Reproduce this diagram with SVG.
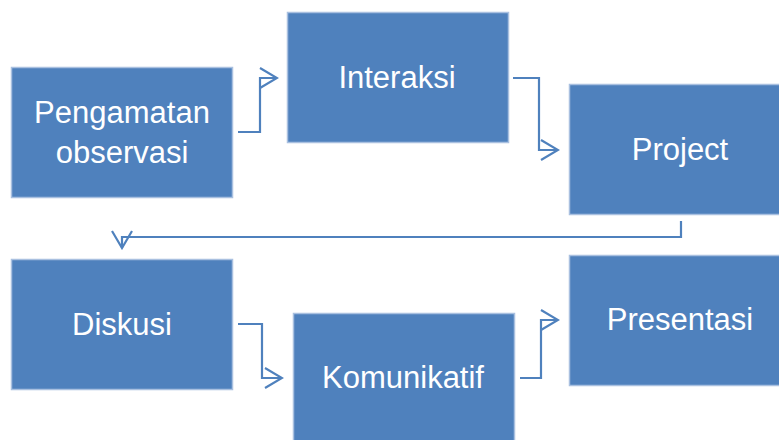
<svg xmlns="http://www.w3.org/2000/svg" width="779" height="440" viewBox="0 0 779 440">
<defs>
<style>
.box{fill:#4F81BD;stroke:#A9C0E0;stroke-width:1.5}
.lbl{fill:#FFFFFF;font-family:"Liberation Sans","Open Sans",sans-serif;font-size:31px;text-anchor:middle}
.con{fill:none;stroke:#4F81BD;stroke-width:2.2}
</style>
<marker id="ah" viewBox="0 0 20 22" refX="18" refY="11" markerWidth="20" markerHeight="22" markerUnits="userSpaceOnUse" orient="auto">
<path d="M1,1 L18,11 L1,21" fill="none" stroke="#4F81BD" stroke-width="2.2"/>
</marker>
</defs>
<rect width="779" height="440" fill="#FFFFFF"/>
<g id="connectors">
<polyline class="con" points="238,132 260,132 260,78 277,78" marker-end="url(#ah)"/>
<polyline class="con" points="513,78 539,78 539,150 558,150" marker-end="url(#ah)"/>
<polyline class="con" points="681,221 681,237 122,237 122,248" marker-end="url(#ah)"/>
<polyline class="con" points="238,324 262,324 262,378 282,378" marker-end="url(#ah)"/>
<polyline class="con" points="520,378 541,378 541,320 558,320" marker-end="url(#ah)"/>
</g>
<g id="node-pengamatan">
<rect class="box" x="11.5" y="67.5" width="221" height="130"/>
<text class="lbl" x="122" y="123">Pengamatan</text>
<text class="lbl" x="122" y="163">observasi</text>
</g>
<g id="node-interaksi">
<rect class="box" x="287.5" y="12.5" width="221" height="130"/>
<text class="lbl" x="397" y="88">Interaksi</text>
</g>
<g id="node-project">
<rect class="box" x="569.5" y="84.5" width="211" height="130"/>
<text class="lbl" x="680" y="160">Project</text>
</g>
<g id="node-diskusi">
<rect class="box" x="11.5" y="259.5" width="221" height="130"/>
<text class="lbl" x="122" y="335">Diskusi</text>
</g>
<g id="node-komunikatif">
<rect class="box" x="293.5" y="313.5" width="221" height="130"/>
<text class="lbl" x="403" y="388">Komunikatif</text>
</g>
<g id="node-presentasi">
<rect class="box" x="569.5" y="255.5" width="211" height="130"/>
<text class="lbl" x="680" y="330">Presentasi</text>
</g>
</svg>
